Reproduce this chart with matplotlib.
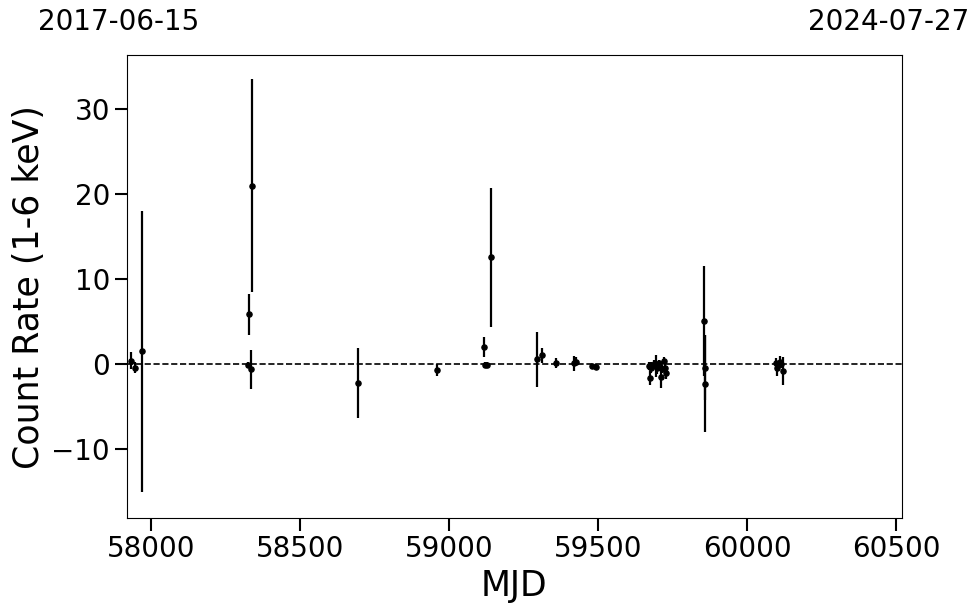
import matplotlib
matplotlib.use('Agg')
import matplotlib.pyplot as plt
import numpy as np

# данные
mjd = [57930, 57946, 57970,
       58325, 58327, 58333, 58336,
       58693, 58960,
       59118, 59120, 59128, 59139,
       59293, 59311, 59357, 59420, 59425, 59480, 59491,
       59670, 59673, 59678, 59688, 59693, 59698, 59705, 59710, 59714, 59720, 59724, 59727,
       59855, 59858, 59860,
       60097, 60100, 60110, 60114, 60121]
rate = [0.4, -0.4, 1.5,
        -0.1, 5.85, -0.6, 21.0,
        -2.2, -0.7,
        2.0, -0.1, -0.1, 12.55,
        0.55, 1.05, 0.1, 0.1, 0.3, -0.25, -0.3,
        -0.2, -1.6, -0.4, 0.0, -0.2, -0.5, 0.1, -1.5, -0.6, 0.4, -0.4, -1.1,
        5.1, -0.4, -2.3,
        0.1, -0.5, 0.3, 0.0, -0.8]
err = [1.0, 0.6, 16.5,
       0.3, 2.45, 2.3, 12.5,
       4.1, 0.7,
       1.2, 0.3, 0.3, 8.15,
       3.2, 0.9, 0.6, 0.9, 0.5, 0.3, 0.3,
       0.5, 0.8, 0.6, 0.5, 1.3, 0.7, 0.4, 1.3, 0.5, 0.4, 0.6, 0.6,
       6.5, 3.8, 5.7,
       0.6, 0.9, 0.7, 0.4, 1.6]

x_min, x_max = 57919, 60518
date_left = '2017-06-15'
date_right = '2024-07-27'

fig = plt.figure(figsize=(9.8, 6.13), dpi=100)
ax = fig.add_axes([0.1299, 0.155, 0.790, 0.755])

ax.errorbar(mjd, rate, yerr=err, fmt='o', color='black', ms=3.7, elinewidth=1.6, capsize=0)
ax.axhline(0, color='black', ls='--', lw=1.2)

ax.set_xlim(x_min, x_max)
ax.set_ylim(-18.1, 36.35)
ax.set_xticks([58000, 58500, 59000, 59500, 60000, 60500])
ax.set_yticks([-10, 0, 10, 20, 30])
ax.tick_params(labelsize=20, length=9, width=1.5)

ax.set_xlabel('MJD', fontsize=25)
ax.set_ylabel('Count Rate (1-6 keV)', fontsize=25)

# даты по краям сверху
fig.text(0.1214, 0.964, date_left, fontsize=20, ha='center', va='center')
fig.text(0.907, 0.964, date_right, fontsize=20, ha='center', va='center')

plt.savefig('out.png', dpi=100)
